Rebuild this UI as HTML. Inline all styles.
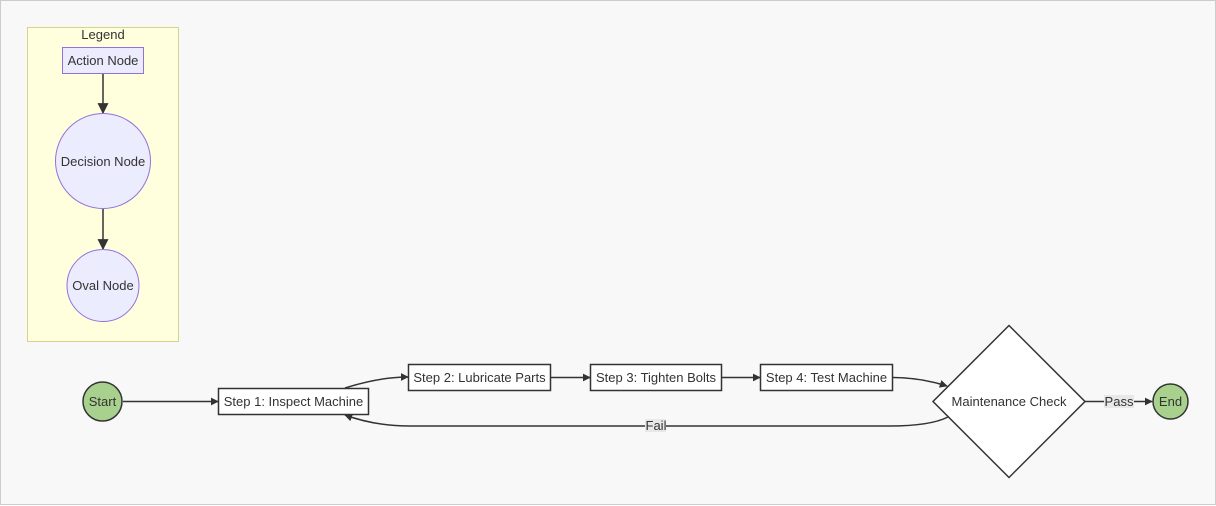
<!DOCTYPE html>
<html><head><style>
html,body{margin:0;padding:0;background:#fff}
svg{display:block}
text{font-family:"Liberation Sans",Arial,sans-serif;font-size:13px;fill:#333}
</style></head><body>
<svg width="1216" height="506" viewBox="0 0 1216 506">
<defs>
<marker id="a" viewBox="0 0 10 10" refX="9" refY="5" markerWidth="8" markerHeight="8" orient="auto-start-reverse" markerUnits="userSpaceOnUse">
<path d="M0,0 L10,5 L0,10 z" fill="#333"/></marker>
<marker id="b" viewBox="0 0 10 10" refX="9" refY="5" markerWidth="11" markerHeight="11" orient="auto" markerUnits="userSpaceOnUse">
<path d="M0,0 L10,5 L0,10 z" fill="#333"/></marker>
</defs>
<rect x="0.5" y="0.5" width="1215" height="504" fill="#f8f8f8" stroke="#ccc"/>
<rect x="27.5" y="27.5" width="151" height="314" fill="#ffffde" stroke="#d4d48a"/>
<text x="103" y="39" text-anchor="middle">Legend</text>
<rect x="62.5" y="47.5" width="81" height="26" fill="#ececff" stroke="#9370db"/>
<text x="103" y="65" text-anchor="middle">Action Node</text>
<line x1="103" y1="74" x2="103" y2="113" stroke="#333" stroke-width="1.5" marker-end="url(#b)"/>
<circle cx="103" cy="161" r="47.5" fill="#ececff" stroke="#9370db"/>
<text x="103" y="166" text-anchor="middle">Decision Node</text>
<line x1="103" y1="209" x2="103" y2="249" stroke="#333" stroke-width="1.5" marker-end="url(#b)"/>
<circle cx="103" cy="285.5" r="36" fill="#ececff" stroke="#9370db"/>
<text x="103" y="290" text-anchor="middle">Oval Node</text>

<g stroke="#333" stroke-width="1.5" fill="none">
<line x1="123" y1="401.5" x2="218" y2="401.5" marker-end="url(#a)"/>
<path d="M345,388 Q380,377 408,377" marker-end="url(#a)"/>
<line x1="551" y1="377.5" x2="590" y2="377.5" marker-end="url(#a)"/>
<line x1="721" y1="377.5" x2="760" y2="377.5" marker-end="url(#a)"/>
<path d="M893,377.5 Q920,377.5 947,386" marker-end="url(#a)"/>
<path d="M948,417 Q930,426 890,426 L410,426 Q375,426 345,415" marker-end="url(#a)"/>
<line x1="1085" y1="401.5" x2="1152" y2="401.5" marker-end="url(#a)"/>
</g>
<circle cx="102.5" cy="401.5" r="19.5" fill="#a9d18e" stroke="#333" stroke-width="1.5"/>
<text x="102.5" y="406" text-anchor="middle">Start</text>
<rect x="218.5" y="388.5" width="150" height="26" fill="#fff" stroke="#333" stroke-width="1.5"/>
<text x="293.5" y="406" text-anchor="middle">Step 1: Inspect Machine</text>
<rect x="408.5" y="364.5" width="142" height="26" fill="#fff" stroke="#333" stroke-width="1.5"/>
<text x="479.5" y="382" text-anchor="middle">Step 2: Lubricate Parts</text>
<rect x="590.5" y="364.5" width="131" height="26" fill="#fff" stroke="#333" stroke-width="1.5"/>
<text x="656" y="382" text-anchor="middle">Step 3: Tighten Bolts</text>
<rect x="760.5" y="364.5" width="132" height="26" fill="#fff" stroke="#333" stroke-width="1.5"/>
<text x="826.5" y="382" text-anchor="middle">Step 4: Test Machine</text>
<polygon points="1009,325.5 1085,401.5 1009,477.5 933,401.5" fill="#fff" stroke="#333" stroke-width="1.5"/>
<text x="1009" y="406" text-anchor="middle">Maintenance Check</text>
<rect x="645" y="419" width="21" height="13" fill="#e8e8e8"/>
<text x="656" y="430" text-anchor="middle">Fail</text>
<rect x="1104" y="395" width="30" height="13" fill="#e8e8e8"/>
<text x="1119" y="406" text-anchor="middle">Pass</text>
<circle cx="1170.5" cy="401.5" r="17.5" fill="#a9d18e" stroke="#333" stroke-width="1.5"/>
<text x="1170.5" y="406" text-anchor="middle">End</text>
</svg>
</body></html>
